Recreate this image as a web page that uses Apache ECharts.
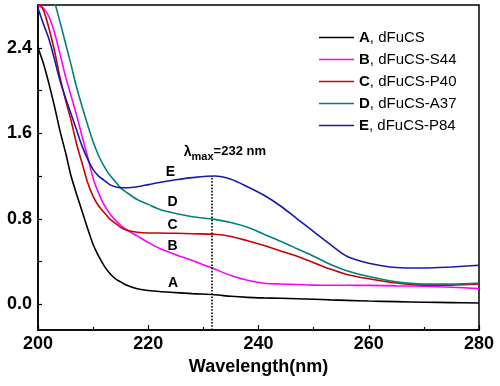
<!DOCTYPE html>
<html>
<head>
<meta charset="utf-8">
<script src="https://cdn.jsdelivr.net/npm/echarts@6/dist/echarts.min.js"></script>
<style>html,body{margin:0;padding:0;background:#fff}#c{width:500px;height:386px}</style>
</head>
<body>
<div id="c"></div>
<script>
const wavelengths = [200,201,202,203,204,205,206,207,208,209,210,211,212,213,214,215,216,218,220,222,225,228,232,235,238,241,244,247,250,253,256,260,265,270,275,280];
const seriesA = [2.40,2.25,2.06,1.85,1.62,1.42,1.20,1.03,0.87,0.71,0.56,0.45,0.36,0.29,0.24,0.21,0.18,0.145,0.13,0.12,0.11,0.10,0.09,0.075,0.065,0.06,0.057,0.053,0.048,0.042,0.037,0.031,0.025,0.02,0.016,0.012];
const seriesB = [2.79,2.77,2.69,2.54,2.34,2.13,1.95,1.77,1.57,1.38,1.18,1.04,0.93,0.85,0.79,0.74,0.70,0.64,0.58,0.525,0.465,0.41,0.33,0.27,0.225,0.198,0.19,0.186,0.18,0.178,0.178,0.177,0.173,0.169,0.16,0.147];
const seriesC = [2.84,2.75,2.58,2.37,2.12,1.91,1.72,1.50,1.32,1.14,1.01,0.92,0.86,0.80,0.76,0.72,0.695,0.675,0.668,0.668,0.665,0.66,0.655,0.635,0.595,0.55,0.50,0.45,0.39,0.33,0.28,0.24,0.20,0.18,0.18,0.19];
const seriesD = [3.35,3.17,3.00,2.83,2.64,2.44,2.24,2.03,1.85,1.68,1.52,1.39,1.29,1.21,1.15,1.09,1.05,0.98,0.935,0.89,0.85,0.82,0.795,0.765,0.72,0.655,0.59,0.52,0.45,0.375,0.315,0.26,0.21,0.19,0.19,0.20];
const seriesE = [2.77,2.62,2.48,2.29,2.09,1.93,1.78,1.63,1.48,1.36,1.26,1.20,1.16,1.12,1.10,1.09,1.09,1.10,1.12,1.14,1.165,1.185,1.20,1.17,1.10,1.02,0.92,0.80,0.68,0.56,0.45,0.385,0.345,0.34,0.35,0.365];
const seriesNames = ['A, dFuCS','B, dFuCS-S44','C, dFuCS-P40','D, dFuCS-A37','E, dFuCS-P84'];
const seriesColors = ['#000000','#ff00ff','#cc0000','#008080','#1a1aaa'];
const xTicks = [200,220,240,260,280];
const yTickLabels = [0,0.8,1.6,2.4];
const yTicks = [0,0.4,0.8,1.2,1.6,2.0,2.4];
const peakWavelength = 232;
const peakDrawnX = 231.5;
const peakValue = 1.2;
const curveLetters = [['E',224.0,1.24],['D',224.4,0.958],['C',224.4,0.74],['B',224.4,0.543],['A',224.5,0.194]];

const FONT = 'Liberation Sans, Arial, sans-serif';
const allValues = [seriesA,seriesB,seriesC,seriesD,seriesE];
const chart = echarts.init(document.getElementById('c'), null, {renderer:'canvas'});
const yMin = -0.24, yMax = 2.8;

const lineSeries = allValues.map((vals,i)=>({
  name: seriesNames[i],
  type: 'line',
  data: wavelengths.map((w,k)=>[w, vals[k]]),
  smooth: 0.3,
  symbol: 'none',
  clip: true,
  lineStyle: {color: seriesColors[i], width: 1.6},
  itemStyle: {color: seriesColors[i]},
  z: 3,
  markLine: i === 4 ? {
    silent: true, symbol: 'none', animation: false,
    label: {show: false},
    lineStyle: {type: 'dotted', color: '#000', width: 1.6},
    data: [[{coord:[peakDrawnX, yMin]},{coord:[peakDrawnX, peakValue]}]]
  } : undefined
}));

const labelBase = {fontFamily: FONT, fontWeight: 'bold', color: '#000', opacity: 1, textBorderWidth: 0, textBorderColor: 'transparent', textShadowBlur: 0};

const option = {
  animation: false,
  backgroundColor: '#fff',
  grid: {left: 38, right: 21, top: 5, bottom: 56, show: true, borderColor: '#000', borderWidth: 1.5, backgroundColor: 'transparent'},
  legend: {
    data: seriesNames,
    orient: 'vertical', left: 314, top: 25,
    itemWidth: 35, itemHeight: 14, itemGap: 7,
    icon: 'path://M0,0L35,0L35,1.6L0,1.6Z',
    textStyle: {fontFamily: FONT, fontSize: 15, color: '#000', rich: {b: {fontFamily: FONT, fontSize: 15, fontWeight: 'bold', color: '#000'}}},
    formatter: n => '{b|' + n.charAt(0) + '}' + n.slice(1)
  },
  xAxis: {
    type: 'value', min: 200, max: 280, interval: 20,
    axisLine: {show: true, onZero: false, lineStyle: {color: '#000', width: 1.5}},
    axisTick: {inside: true, length: 5, lineStyle: {color: '#000', width: 1.2}},
    minorTick: {show: true, splitNumber: 2, length: 3, lineStyle: {color: '#000', width: 1.2}},
    splitLine: {show: false}, minorSplitLine: {show: false},
    axisLabel: {fontFamily: FONT, fontSize: 18, fontWeight: 'bold', color: '#000', margin: 5,
      customValues: xTicks},
    name: 'Wavelength(nm)', nameLocation: 'middle', nameGap: 21,
    nameTextStyle: {fontFamily: FONT, fontSize: 18, fontWeight: 'bold', color: '#000'}
  },
  yAxis: {
    type: 'value', min: yMin, max: yMax,
    axisLine: {show: true, onZero: false, lineStyle: {color: '#000', width: 1.5}},
    axisTick: {show: true, inside: true, length: 4, customValues: yTicks, lineStyle: {color: '#000', width: 1.2}},
    axisLabel: {customValues: yTickLabels, formatter: v => Number(v).toFixed(1), fontFamily: FONT, fontSize: 18, fontWeight: 'bold', color: '#000', margin: 6},
    splitLine: {show: false}
  },
  series: lineSeries.concat([{
    name: 'letters', type: 'scatter', symbolSize: 0, silent: true, z: 5,
    itemStyle: {color: '#000', opacity: 1},
    data: curveLetters.map(c => ({value: [c[1], c[2]], name: c[0]})),
    label: Object.assign({show: true, position: 'inside', formatter: p => p.name, fontSize: 14}, labelBase)
  },{
    name: 'peak', type: 'scatter', symbolSize: 0, silent: true, z: 5,
    itemStyle: {color: '#000', opacity: 1},
    data: [{value: [233.9, 1.377], name: String(peakWavelength)}],
    label: Object.assign({show: true, position: 'inside',
      formatter: p => '{l|λ}{s|max}{t|=' + p.name + ' nm}',
      rich: {
        l: Object.assign({fontSize: 14, lineHeight: 14, verticalAlign: 'top'}, labelBase),
        s: Object.assign({fontSize: 11, lineHeight: 24, verticalAlign: 'middle'}, labelBase),
        t: Object.assign({fontSize: 13, lineHeight: 14, verticalAlign: 'top'}, labelBase)
      }}, labelBase)
  }])
};
chart.setOption(option);
</script>
</body>
</html>
